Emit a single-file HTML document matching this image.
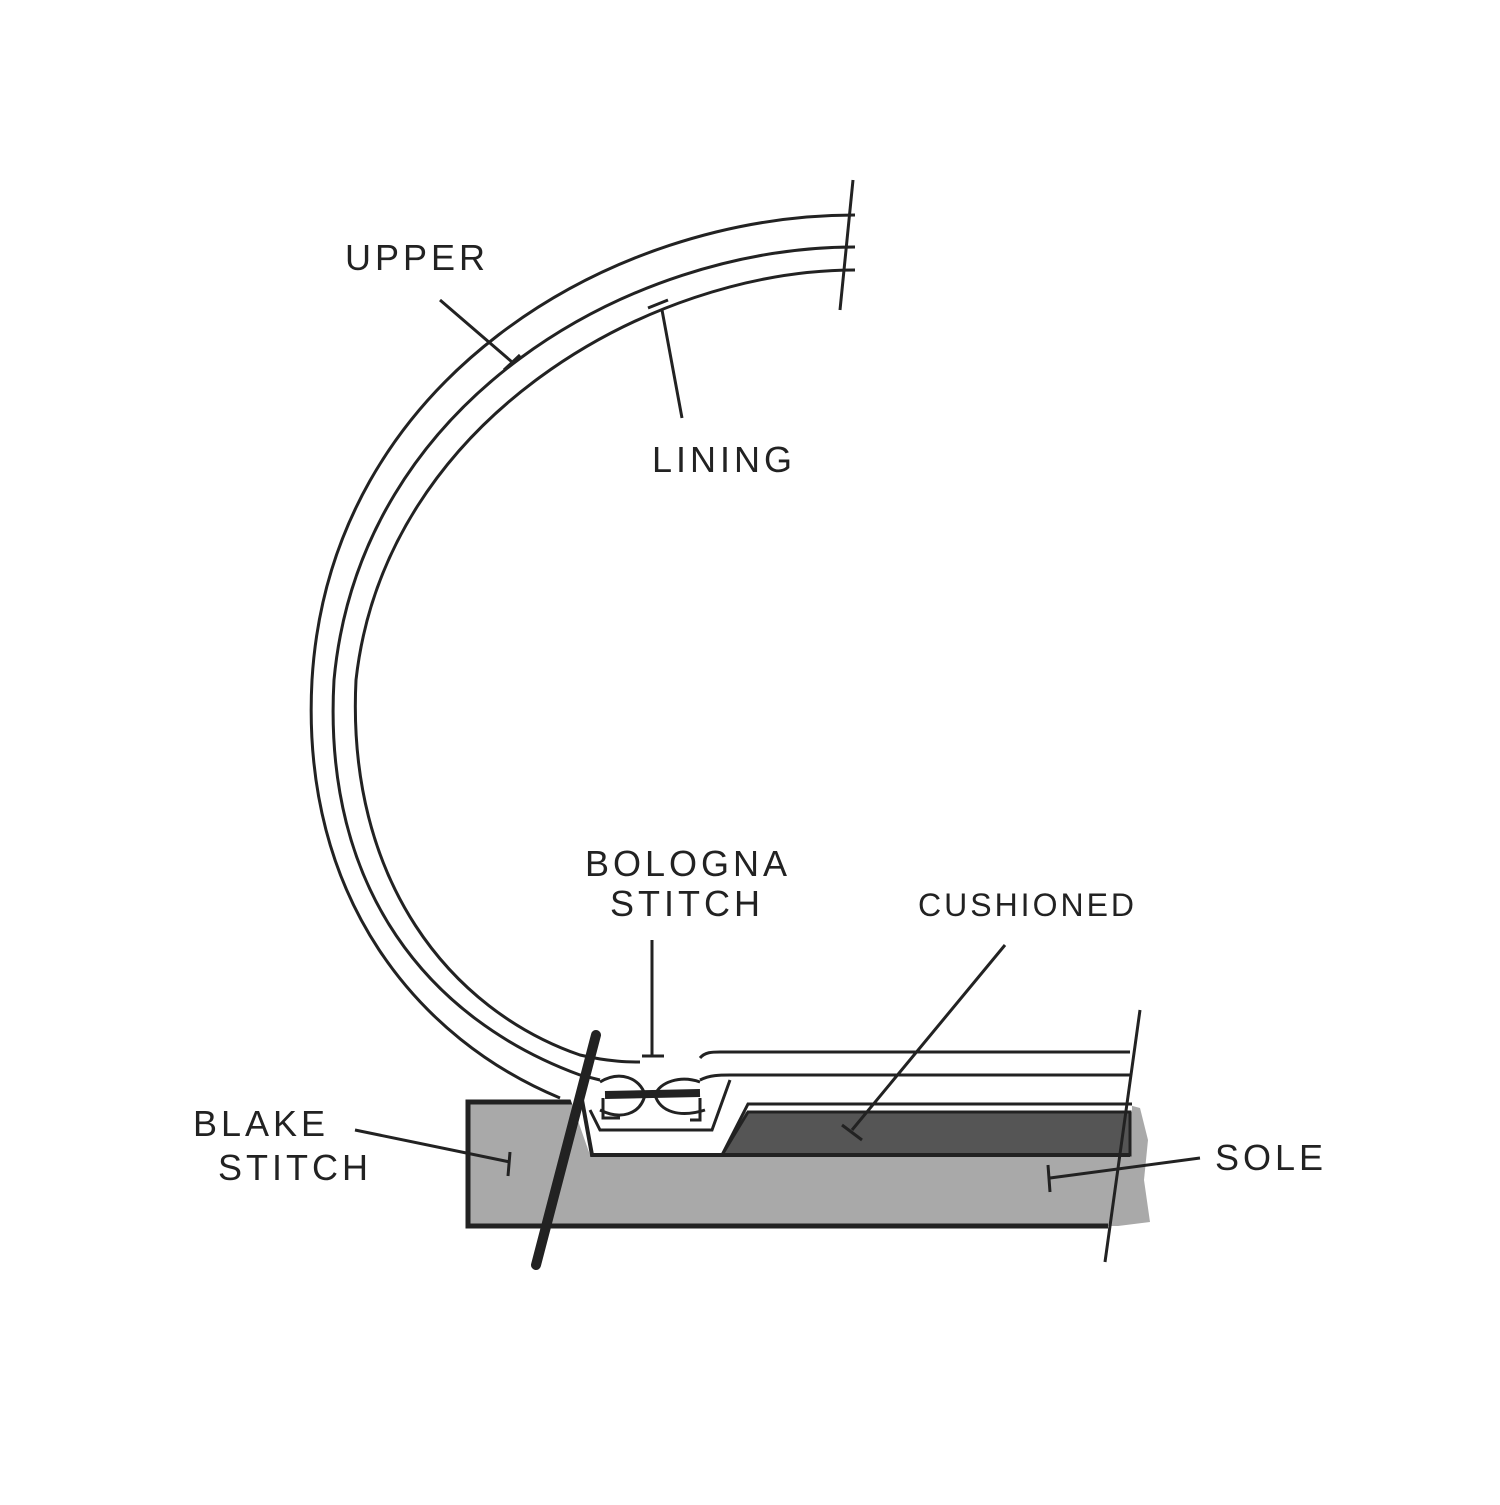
<!DOCTYPE html>
<html><head><meta charset="utf-8"><style>
html,body{margin:0;padding:0;background:#fff;}
svg text{font-family:"Liberation Sans",sans-serif;fill:#222;letter-spacing:4px;}
</style></head><body>
<svg width="1500" height="1500" viewBox="0 0 1500 1500" xmlns="http://www.w3.org/2000/svg">
<rect width="1500" height="1500" fill="#fff"/>
<path d="M468,1102 L1118,1102 L1140,1108 L1148,1140 L1144,1180 L1150,1222 L1118,1226 L468,1226 Z" fill="#a9a9a9"/>
<path d="M1115,1102 L468,1102 L468,1226 L1108,1226" fill="none" stroke="#222" stroke-width="5"/>
<path d="M570,1098 L590,1155 L722,1155 L745,1112 L1132,1112 L1132,1060 L600,1060 Z" fill="#fff"/>
<path d="M748,1112 L1130,1112 L1130,1155 L722,1155 Z" fill="#555" stroke="#222" stroke-width="3"/>
<path d="M582,1100 L592,1155 L1130,1155" fill="none" stroke="#222" stroke-width="4"/>
<path d="M722,1155 L748,1104 L1132,1104" fill="none" stroke="#222" stroke-width="3"/>
<g fill="none" stroke="#222" stroke-width="3">
<path d="M855,215 C610,215 330,380 312,680 C300,900 420,1040 560,1098"/>
<path d="M855,247 C630,247 360,400 334,680 C322,890 430,1020 580,1075 L600,1080"/>
<path d="M855,270 C650,270 385,420 356,680 C346,880 450,1010 580,1055 C610,1062 630,1062 640,1062"/>
<path d="M700,1058 C705,1052 712,1052 720,1052 L1130,1052"/>
<path d="M700,1080 C710,1075 720,1075 730,1075 L1130,1075"/>
<path d="M600,1082 C620,1070 640,1078 645,1095 C640,1115 620,1120 600,1110"/>
<path d="M700,1082 C680,1075 660,1082 655,1095 C660,1112 680,1118 705,1110"/>
<path d="M603,1098 L603,1118 L620,1118 M700,1098 L700,1120 L690,1120"/>
<path d="M590,1110 L600,1130 L712,1130 L730,1080"/>
</g>
<path d="M605,1095 L700,1093" stroke="#222" stroke-width="8"/>
<path d="M853,180 L840,310" stroke="#222" stroke-width="3"/>
<path d="M1140,1010 L1105,1262" stroke="#222" stroke-width="3"/>
<path d="M596,1035 L536,1265" stroke="#222" stroke-width="10" stroke-linecap="round"/>
<g stroke="#222" stroke-width="3" fill="none">
<path d="M440,300 L512,362 M504,370 L520,355"/>
<path d="M682,418 L662,310 M648,308 L668,300"/>
<path d="M652,940 L652,1055 M642,1056 L664,1056"/>
<path d="M1005,945 L852,1130 M842,1125 L862,1140"/>
<path d="M355,1130 L510,1162 M510,1152 L508,1176"/>
<path d="M1200,1158 L1050,1178 M1048,1165 L1050,1192"/>
</g>
<g font-size="36">
<text x="345" y="270">UPPER</text>
<text x="652" y="472">LINING</text>
<text x="585" y="876">BOLOGNA</text>
<text x="610" y="916">STITCH</text>
<text x="918" y="916" font-size="32" style="letter-spacing:3px">CUSHIONED</text>
<text x="193" y="1136">BLAKE</text>
<text x="218" y="1180">STITCH</text>
<text x="1215" y="1170">SOLE</text>
</g>
</svg>
</body></html>
